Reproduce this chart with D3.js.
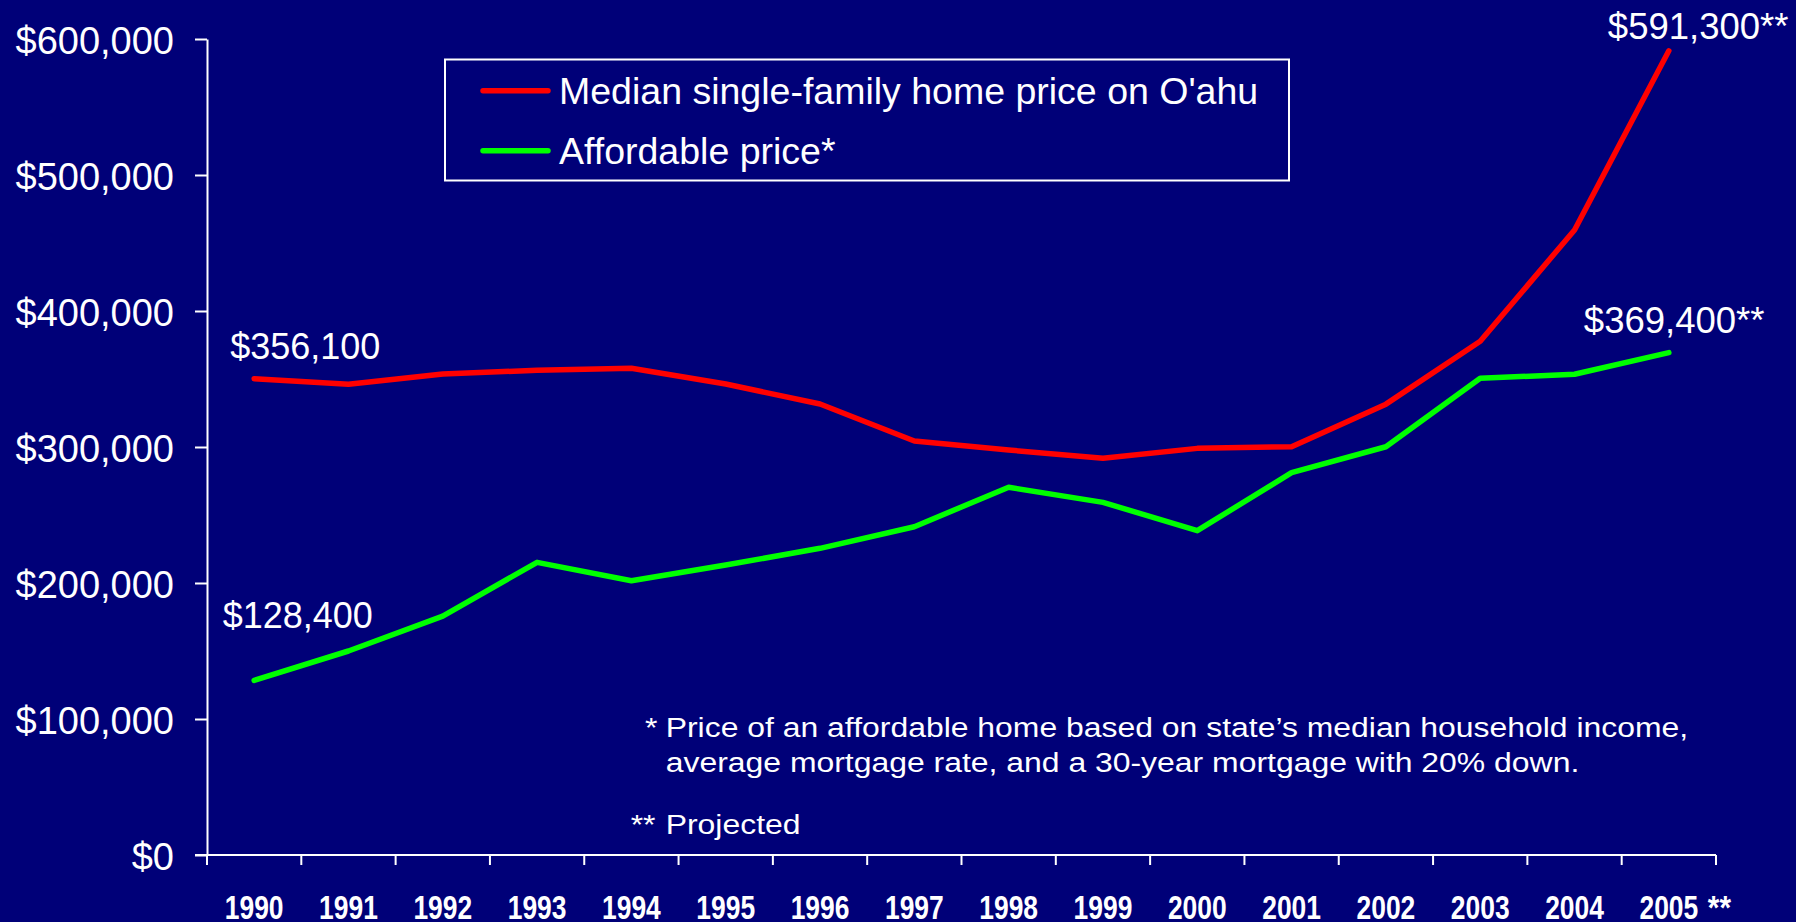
<!DOCTYPE html>
<html>
<head>
  <title>O'ahu home prices vs affordable price</title>
  <meta charset="utf-8" />
  <script src="https://d3js.org/d3.v7.min.js"></script>
  <style>
  body { margin: 0; background: #000078; }
  text { font-family: Arial, "Liberation Sans", sans-serif; fill: #fff; }
  </style>
</head>
<body>
  <script>
  var years = ["1990", "1991", "1992", "1993", "1994", "1995", "1996", "1997",
               "1998", "1999", "2000", "2001", "2002", "2003", "2004", "2005"];
  var medianPrice = [350200, 346100, 353700, 356400, 357900, 346300, 331600, 304400,
                     297800, 291700, 299000, 300200, 331500, 377700, 459600, 591300];
  var affordablePrice = [128400, 150000, 175700, 215200, 201700, 213200, 225500, 241400,
                         270400, 259300, 238500, 281100, 300200, 350500, 353500, 369400];
  var yTicks = [0, 100000, 200000, 300000, 400000, 500000, 600000];
  var legendLabels = ["Median single-family home price on O'ahu", "Affordable price*"];
  var pointLabels = ["$356,100", "$128,400", "$591,300**", "$369,400**"];
  var notes = ["Price of an affordable home based on state\u2019s median household income,",
               "average mortgage rate, and a 30-year mortgage with 20% down.",
               "Projected"];

  var width = 1796, height = 922;
  var red = "#ff0000", green = "#00ff00";

  var svg = d3.select("body").append("svg")
    .attr("width", width)
    .attr("height", height);

  svg.append("rect").attr("width", width).attr("height", height).attr("fill", "#000078");

  var x = d3.scaleBand().domain(years).range([207, 1716]);
  var y = d3.scaleLinear().domain([0, 600000]).range([855, 39]);
  function cx(yr) { return x(yr) + x.bandwidth() / 2; }

  // y axis
  var yAxis = svg.append("g")
    .attr("transform", "translate(207,0)")
    .attr("color", "#fff")
    .call(d3.axisLeft(y).tickValues(yTicks).tickSize(12).tickSizeOuter(0).tickPadding(21)
      .tickFormat(function(d) { return "$" + d3.format(",")(d); }));
  yAxis.selectAll("path, line").attr("stroke-width", 2);
  yAxis.selectAll("text").attr("font-size", 38).attr("dy", "0.37em")
    .attr("font-family", "Arial, 'Liberation Sans', sans-serif");

  // x axis: line, ticks at category edges, bold narrow labels
  var xAxis = svg.append("g");
  xAxis.append("line")
    .attr("x1", 195).attr("x2", x.range()[1])
    .attr("y1", y(0)).attr("y2", y(0))
    .attr("stroke", "#fff").attr("stroke-width", 2);
  var edges = years.map(function(d) { return x(d); }).concat([x.range()[1]]);
  xAxis.selectAll(".xtick").data(edges).enter().append("line")
    .attr("x1", function(d) { return d; }).attr("x2", function(d) { return d; })
    .attr("y1", y(0)).attr("y2", y(0) + 10)
    .attr("stroke", "#fff").attr("stroke-width", 2);
  xAxis.selectAll(".xlab").data(years).enter().append("text")
    .attr("transform", function(d) { return "translate(" + cx(d) + ",918.5) scale(0.8,1)"; })
    .attr("text-anchor", "middle")
    .attr("font-size", 33)
    .attr("font-weight", "bold")
    .text(function(d) { return d; });
  xAxis.append("text")
    .attr("transform", "translate(" + (cx("2005") + 39) + ",918.5) scale(0.9,1)")
    .attr("font-size", 33)
    .attr("font-weight", "bold")
    .text("**");

  // series lines
  var line = d3.line()
    .x(function(d, i) { return cx(years[i]); })
    .y(function(d) { return y(d); });

  svg.append("path").datum(medianPrice)
    .attr("d", line).attr("fill", "none")
    .attr("stroke", red).attr("stroke-width", 5.5)
    .attr("stroke-linecap", "round").attr("stroke-linejoin", "round");
  svg.append("path").datum(affordablePrice)
    .attr("d", line).attr("fill", "none")
    .attr("stroke", green).attr("stroke-width", 5.5)
    .attr("stroke-linecap", "round").attr("stroke-linejoin", "round");

  // value labels at the ends of the lines
  var first = years[0], last = years[years.length - 1];
  var n = years.length - 1;
  svg.append("text").attr("x", cx(first) - 24).attr("y", y(medianPrice[0]) - 19.5)
    .attr("font-size", 36).text(pointLabels[0]);
  svg.append("text").attr("x", cx(first) - 31.5).attr("y", y(affordablePrice[0]) - 52)
    .attr("font-size", 36).text(pointLabels[1]);
  svg.append("text").attr("x", cx(last) - 61).attr("y", y(medianPrice[n]) - 12)
    .attr("font-size", 36.5).text(pointLabels[2]);
  svg.append("text").attr("x", cx(last) - 85).attr("y", y(affordablePrice[n]) - 20)
    .attr("font-size", 36.5).text(pointLabels[3]);

  // legend
  var legend = svg.append("g");
  legend.append("rect")
    .attr("x", 445).attr("y", 59.5).attr("width", 844).attr("height", 121)
    .attr("fill", "none").attr("stroke", "#fff").attr("stroke-width", 2);
  [red, green].forEach(function(c, i) {
    legend.append("line")
      .attr("x1", 483).attr("x2", 548)
      .attr("y1", 90.7 + i * 60).attr("y2", 90.7 + i * 60)
      .attr("stroke", c).attr("stroke-width", 5.5).attr("stroke-linecap", "round");
    legend.append("text")
      .attr("x", 559).attr("y", 104 + i * 59.5)
      .attr("font-size", 37.5)
      .text(legendLabels[i]);
  });

  // footnotes (text in the reference is a little wide, so stretch it)
  var fn = svg.append("g").attr("font-size", 28);
  function note(tx, ty, s) {
    fn.append("text")
      .attr("transform", "translate(" + tx + "," + ty + ") scale(1.14,1)")
      .text(s);
  }
  note(645, 736.7, "*");
  note(665.7, 736.7, notes[0]);
  note(665.7, 771.7, notes[1]);
  note(630.7, 834, "**");
  note(665.7, 834, notes[2]);
  </script>
</body>
</html>
